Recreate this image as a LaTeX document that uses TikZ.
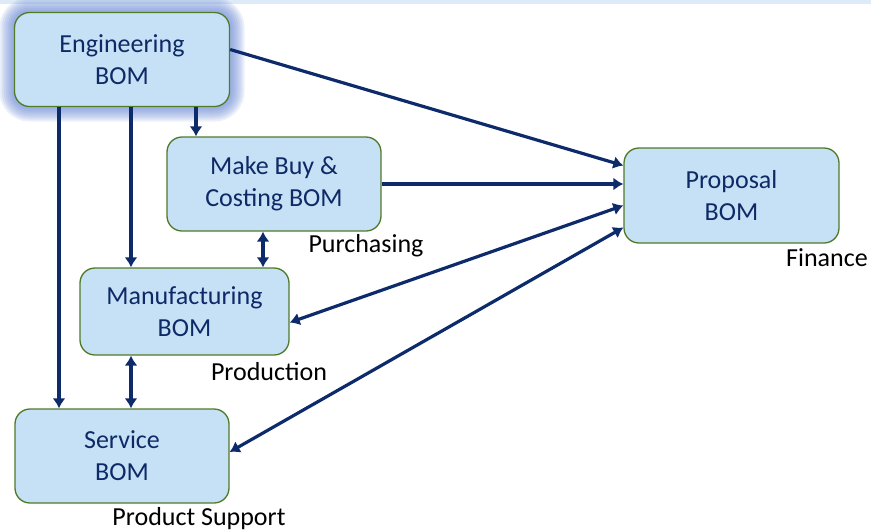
\documentclass[tikz,border=0pt]{standalone}
\usepackage{fontspec}
\setmainfont{Carlito}
\usetikzlibrary{arrows.meta,calc}
\definecolor{boxfill}{HTML}{C6E0F6}
\definecolor{boxline}{HTML}{4F7A28}
\definecolor{boxtext}{HTML}{0E2A66}
\definecolor{arrcol}{HTML}{0D2B6B}
\definecolor{glow}{HTML}{5F80D0}
\definecolor{band}{HTML}{DDEBF8}
\tikzset{
  bom/.style={draw=boxline, line width=1.3pt, fill=boxfill, rounded corners=15pt,
    align=center, text=boxtext, font=\fontsize{26}{32}\selectfont, inner sep=0pt},
  role/.style={font=\fontsize{26}{28}\selectfont, text=black, inner sep=0pt},
  arr/.style={draw=arrcol, line width=3.2pt, -{Latex[length=10pt,width=13pt]}},
  darr/.style={draw=arrcol, line width=3.2pt, {Latex[length=10pt,width=13pt]}-{Latex[length=10pt,width=13pt]}}
}
\begin{document}
\begin{tikzpicture}[x=1pt,y=-1pt]
\useasboundingbox (0,0) rectangle (871,531);
\fill[band] (0,0) rectangle (871,3.5);
% glow around Engineering BOM
\foreach \g in {15,13,11,9,7,5,3}{
  \fill[glow, opacity=0.13, rounded corners=15pt+\g pt] (14.5-\g,12.5-\g) rectangle (229.5+\g,106.5+\g);
}
\node[bom, minimum width=215pt, minimum height=94pt] (eng) at (122,59.5) {Engineering\\BOM};
\node[bom, minimum width=214pt, minimum height=94pt] (make) at (274,184) {Make Buy \&\\Costing BOM};
\node[bom, minimum width=215pt, minimum height=95pt] (prop) at (731.5,195.5) {Proposal\\BOM};
\node[bom, minimum width=209pt, minimum height=87pt] (mfg) at (184.5,311.5) {Manufacturing\\BOM};
\node[bom, minimum width=214pt, minimum height=94pt] (svc) at (122,456) {Service\\BOM};

\node[role] (purch) at (366,246) {Purchasing};
\node[role] (fin) at (827,258) {Finance};
\node[role] (prod) at (269,372) {Production};
\node[role] (supp) at (199,519) {Product Support};

% vertical arrows
\draw[arr] ([xshift=-63pt]eng.south) -- ([xshift=-63pt]svc.north);
\draw[arr] ([xshift=9pt]eng.south) -- ([xshift=9pt]eng.south |- mfg.north);
\draw[arr] ([xshift=74pt]eng.south) -- ([xshift=74pt]eng.south |- make.north);
\draw[darr] ([xshift=-11pt]make.south) -- ([xshift=-11pt]make.south |- mfg.north);
\draw[darr] ([xshift=9pt]eng.south |- mfg.south) -- ([xshift=9pt]eng.south |- svc.north);
% to proposal
\draw[arr] ([yshift=10pt]eng.east) -- ([yshift=30pt]prop.west);
\draw[arr] (make.east) -- (make.east -| prop.west);
\draw[darr] ([yshift=-11pt]mfg.east) -- ([yshift=-10pt]prop.west);
\draw[darr] ([yshift=4pt]svc.east) -- ([yshift=-32pt]prop.west);
\end{tikzpicture}
\end{document}
